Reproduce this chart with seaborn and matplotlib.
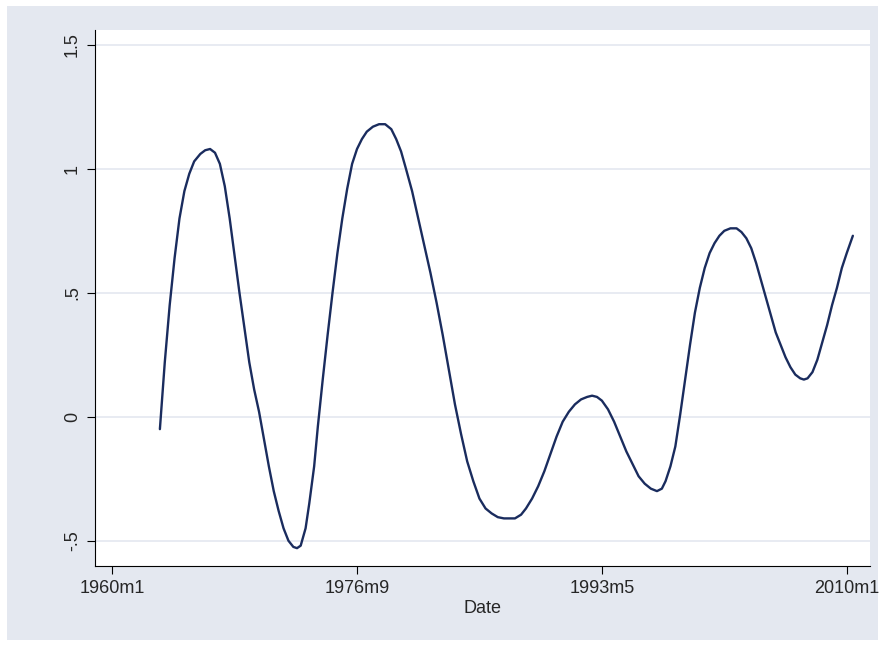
import pandas as pd
import matplotlib
matplotlib.use("Agg")
import matplotlib.pyplot as plt
from matplotlib.patches import Rectangle
import seaborn as sns

# months since 1960m1, and values
months = [39, 43, 47, 51, 55, 59, 63, 67, 72, 76, 80, 84, 88, 92, 96, 100, 104,
          108, 112, 116, 120, 124, 128, 132, 136, 140, 144, 148, 151, 154, 158,
          161, 165, 168, 172, 176, 180, 184, 188, 192, 196, 200, 204, 208, 213,
          218, 223, 228, 232, 236, 240, 245, 250, 255, 260, 265, 270, 275, 280,
          285, 290, 295, 300, 305, 310, 315, 320, 325, 329, 334, 338, 343, 348,
          353, 358, 363, 368, 373, 378, 383, 388, 392, 396, 400, 405, 410, 415,
          420, 425, 430, 435, 440, 445, 449, 452, 456, 460, 464, 468, 472, 476,
          480, 484, 488, 492, 496, 500, 505, 510, 514, 518, 522, 526, 530, 534,
          538, 542, 546, 550, 554, 558, 562, 565, 568, 572, 576, 580, 584, 588,
          592, 596, 600, 605]
values = [-0.05, 0.22, 0.45, 0.64, 0.80, 0.91, 0.98, 1.03, 1.06, 1.075, 1.08,
          1.065, 1.02, 0.93, 0.80, 0.65, 0.50, 0.36, 0.22, 0.11, 0.02, -0.09,
          -0.20, -0.30, -0.38, -0.45, -0.50, -0.525, -0.53, -0.52, -0.45, -0.35,
          -0.20, -0.04, 0.15, 0.33, 0.50, 0.66, 0.80, 0.92, 1.02, 1.08, 1.12,
          1.15, 1.17, 1.18, 1.18, 1.16, 1.12, 1.07, 1.00, 0.91, 0.80, 0.69,
          0.58, 0.46, 0.33, 0.19, 0.05, -0.07, -0.18, -0.26, -0.33, -0.37,
          -0.39, -0.405, -0.41, -0.41, -0.41, -0.395, -0.37, -0.33, -0.28,
          -0.22, -0.15, -0.08, -0.02, 0.02, 0.05, 0.07, 0.08, 0.085, 0.08,
          0.065, 0.03, -0.02, -0.08, -0.14, -0.19, -0.24, -0.27, -0.29, -0.30,
          -0.29, -0.26, -0.20, -0.12, 0.01, 0.15, 0.29, 0.42, 0.52, 0.60, 0.66,
          0.70, 0.73, 0.75, 0.76, 0.76, 0.745, 0.72, 0.68, 0.62, 0.55, 0.48,
          0.41, 0.34, 0.29, 0.24, 0.20, 0.17, 0.155, 0.15, 0.155, 0.18, 0.23,
          0.30, 0.37, 0.45, 0.52, 0.60, 0.66, 0.73]
x_ticks = [0, 200, 400, 600]
x_labels = ["1960m1", "1976m9", "1993m5", "2010m1"]
y_ticks = [-0.5, 0, 0.5, 1, 1.5]
y_labels = ["-.5", "0", ".5", "1", "1.5"]

df = pd.DataFrame({"Date": months, "value": values})

sns.set_style("white")
plt.rcParams["font.family"] = ["Liberation Sans", "DejaVu Sans"]

W, H = 885, 646
fig = plt.figure(figsize=(8.85, 6.46), dpi=100, facecolor="white")
fig.patches.append(Rectangle((7 / W, 6 / H), 871 / W, 634 / H, transform=fig.transFigure,
                             facecolor="#e4e8f0", edgecolor="none", zorder=-10))
ax = fig.add_axes([95 / W, 1 - 566 / H, 775 / W, 536 / H])
ax.set_facecolor("white")

for y in y_ticks:
    ax.axhline(y, color="#e4e8f0", lw=1.2, zorder=0)

sns.lineplot(data=df, x="Date", y="value", ax=ax, color="#1a2c5e", lw=1.7)

ax.set_xlim(-14, 619)
ax.set_ylim(-0.602, 1.56)
ax.set_xticks(x_ticks, x_labels, fontsize=13)
ax.set_yticks(y_ticks, y_labels, fontsize=13, rotation=90, va="center")
ax.set_xlabel("Date", fontsize=13, labelpad=2)
ax.set_ylabel("")
ax.tick_params(axis="both", length=6, color="black", direction="out", left=True, bottom=True, pad=4)
for s in ["top", "right"]:
    ax.spines[s].set_visible(False)
for s in ["left", "bottom"]:
    ax.spines[s].set_color("black")
    ax.spines[s].set_linewidth(0.8)

fig.savefig("out.png", dpi=100, facecolor=fig.get_facecolor())
